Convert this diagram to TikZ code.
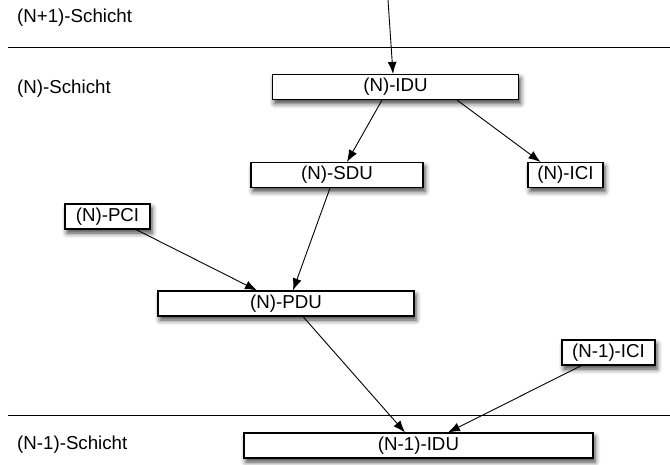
\documentclass[tikz,border=0pt]{standalone}
\usepackage{fontspec}
\setmainfont{Liberation Sans}
\usetikzlibrary{arrows.meta,shadows.blur}
\begin{document}
\begin{tikzpicture}[x=1pt,y=-1pt,
  font=\fontsize{18.7}{20}\selectfont,
  unit/.style={draw=black,line width=1.1pt,fill=white,inner sep=0pt,minimum height=25pt,
    blur shadow={shadow xshift=2pt,shadow yshift=-4pt,shadow blur radius=5pt,shadow opacity=75}},
  layer/.style={anchor=west,inner sep=0pt},
  sep/.style={line width=0.9pt},
  conn/.style={line width=0.9pt,-{Latex[length=12pt,width=9pt]}}]
\useasboundingbox (0,0) rectangle (670,464);
% layer separators and labels
\coordinate (l1a) at (8,47);
\coordinate (l1b) at (670,47);
\coordinate (l2a) at (8,415);
\coordinate (l2b) at (670,415);
\draw[sep] (l1a) -- (l1b);
\draw[sep] (l2a) -- (l2b);
\node[layer] (lup) at (17,18) {(N+1)-Schicht};
\node[layer] (lmid) at (17,89) {(N)-Schicht};
\node[layer] (llow) at (17,445) {(N-1)-Schicht};
% boxes
\node[unit,minimum width=246pt] (idu) at (395.5,87) {(N)-IDU};
\node[unit,minimum width=172pt] (sdu) at (337,175) {(N)-SDU};
\node[unit,minimum width=75pt] (ici) at (565.5,175) {(N)-ICI};
\node[unit,minimum width=85pt] (pci) at (107.5,216.5) {(N)-PCI};
\node[unit,minimum width=256pt] (pdu) at (286,303.5) {(N)-PDU};
\node[unit,minimum width=93pt] (ici1) at (608.5,352.5) {(N-1)-ICI};
\node[unit,minimum width=349pt] (idu1) at (418.5,445.5) {(N-1)-IDU};
% connectors
\coordinate (top) at (388,0);
\draw[conn] (top) -- ([xshift=-2.5pt]idu.north);
\draw[conn] ([xshift=-13.5pt]idu.south) -- ([xshift=10pt]sdu.north);
\draw[conn] ([xshift=61.5pt]idu.south) -- ([xshift=-25pt]ici.north);
\draw[conn] ([xshift=-7pt]sdu.south) -- ([xshift=7pt]pdu.north);
\draw[conn] ([xshift=28.5pt]pci.south) -- ([xshift=-29pt]pdu.north);
\draw[conn] ([xshift=17pt]pdu.south) -- ([xshift=-13.5pt]idu1.north);
\draw[conn] ([xshift=-27pt]ici1.south) -- ([xshift=29.5pt]idu1.north);
\end{tikzpicture}
\end{document}
